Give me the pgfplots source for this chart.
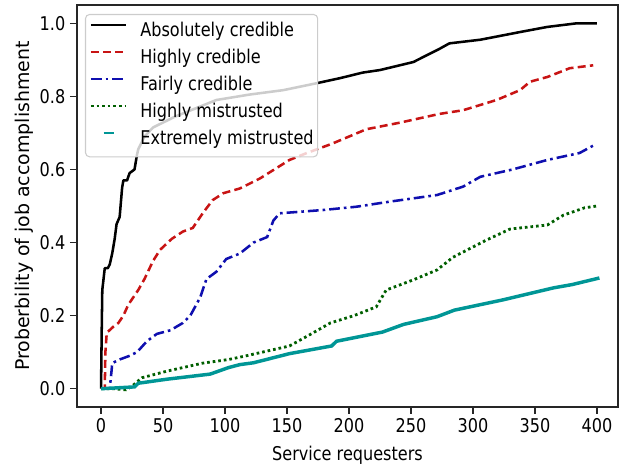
\documentclass[border=0pt]{standalone}
\usepackage{fontspec}
\setmainfont{DejaVu Sans}[FakeStretch=0.85]
\newfontfamily\ylabfont{DejaVu Sans}
\usepackage{pgfplots}
\pgfplotsset{compat=1.18}
\definecolor{cred}{RGB}{200,20,20}
\definecolor{cblue}{RGB}{15,15,175}
\definecolor{cgreen}{RGB}{0,95,0}
\definecolor{cteal}{RGB}{0,150,150}
\newcommand{\lblfont}{\fontsize{14.2}{17}\selectfont}
\begin{document}
\begin{tikzpicture}
\begin{axis}[name=ax, scale only axis, width=405.75pt, height=301.5pt,
 xmin=-19.4, xmax=417, ymin=-0.05, ymax=1.05,
 xtick={0,50,...,400}, ytick={0,0.2,0.4,0.6,0.8,1.0},
 tick align=outside, tick pos=left, major tick length=5.25pt,
 every tick/.style={black!85, line width=1pt},
 axis line style={black!85, line width=1.3pt},
 tick label style={font=\lblfont},
 /pgf/number format/assume math mode=true,
 yticklabel style={/pgf/number format/fixed, /pgf/number format/fixed zerofill, /pgf/number format/precision=1},
 xlabel={Service requesters}, ylabel={Proberbility of job accomplishment},
 xlabel style={font=\lblfont, at={(axis description cs:0.5,-0.1343)}, anchor=base},
 ylabel style={font=\ylabfont\lblfont, at={(axis description cs:-0.0869,0.5)}, anchor=base},
 legend style={at={(0,1)}, anchor=north west, xshift=6pt, yshift=-6.75pt,
   draw=black!20, line width=0.8pt, rounded corners=3pt, fill=white, fill opacity=0.8, text opacity=1,
   font=\lblfont, inner xsep=3pt, inner ysep=5.75pt, row sep=6.3pt, column sep=9.75pt,
   nodes={inner sep=0pt, text height=10.5pt, text depth=3.5pt}},
 legend cell align=left,
 legend image code/.code={\draw[#1] (0pt,5pt) -- (26.25pt,5pt);},
]
\addplot[black, line width=1.9pt, line join=round] coordinates {
(0,0) (0.5,0.15) (1,0.27) (2,0.30) (3,0.33) (5.5,0.33) (7,0.34) (9,0.37) (11,0.41) (12.5,0.45) (15,0.47) (17,0.55) (18,0.57) (21,0.57) (23,0.59) (27,0.60) (29,0.64) (30,0.655) (35,0.69) (42,0.715) (60,0.745) (93,0.79) (120,0.805) (147,0.817) (174,0.836) (193,0.85) (211,0.865) (225,0.872) (252,0.894) (263,0.913) (273,0.93) (281,0.945) (306,0.955) (338,0.976) (360,0.99) (384,1.0) (400,1.0)};
\addplot[cred, line width=1.9pt, dash pattern=on 6pt off 3.2pt] coordinates {
(0,0) (3,0) (3.5,0.1) (4.6,0.153) (10,0.17) (14,0.18) (18,0.2) (22,0.23) (30,0.27) (35,0.3) (42,0.35) (47.6,0.38) (57,0.41) (66,0.43) (74,0.44) (82,0.48) (90,0.516) (98.6,0.535) (112,0.548) (128,0.575) (152,0.626) (166,0.645) (186,0.67) (214,0.71) (241,0.728) (257,0.74) (273,0.752) (292,0.762) (319,0.79) (338,0.817) (346,0.84) (360,0.853) (378,0.877) (397,0.885)};
\addplot[cblue, line width=1.9pt, dash pattern=on 8pt off 3pt on 2pt off 3pt] coordinates {
(0,0) (7,0) (8.5,0.05) (9,0.07) (15,0.08) (23,0.09) (29,0.1) (37,0.13) (45,0.15) (56,0.16) (66,0.18) (72,0.2) (80,0.25) (85,0.3) (93,0.32) (101,0.355) (112,0.37) (123,0.40) (134,0.415) (139,0.46) (144,0.48) (179,0.489) (206,0.498) (233,0.512) (271,0.53) (292,0.553) (306,0.58) (332,0.6) (360,0.626) (386,0.645) (398,0.667)};
\addplot[cgreen, line width=2.1pt, dash pattern=on 2pt off 2.2pt] coordinates {
(0,0) (10,0) (20,-0.003) (25,0.007) (33,0.03) (53,0.048) (82,0.07) (103,0.08) (117,0.09) (152,0.117) (169,0.149) (185,0.18) (204,0.2) (222,0.224) (230,0.27) (252,0.298) (271,0.325) (284,0.36) (311,0.407) (330,0.437) (360,0.448) (373,0.475) (390,0.495) (400,0.5)};
\addplot[cteal, line width=2.6pt, legend image code/.code={\draw[cteal, line width=1.6pt] (9.5pt,5pt) -- (17pt,5pt);}] coordinates {
(0,0) (27,0.005) (30,0.015) (53,0.026) (88,0.04) (103,0.058) (112,0.066) (123,0.071) (152,0.096) (186,0.117) (190,0.13) (227,0.155) (244,0.176) (271,0.197) (285,0.215) (324,0.243) (365,0.276) (380,0.285) (402,0.303)};
\legend{Absolutely credible, Highly credible, Fairly credible, Highly mistrusted, Extremely mistrusted}
\end{axis}
\pgfresetboundingbox
\path[use as bounding box] ([shift={(-57.75pt,-45pt)}]ax.south west) rectangle ([shift={(5.25pt,3.75pt)}]ax.north east);
\end{tikzpicture}
\end{document}
